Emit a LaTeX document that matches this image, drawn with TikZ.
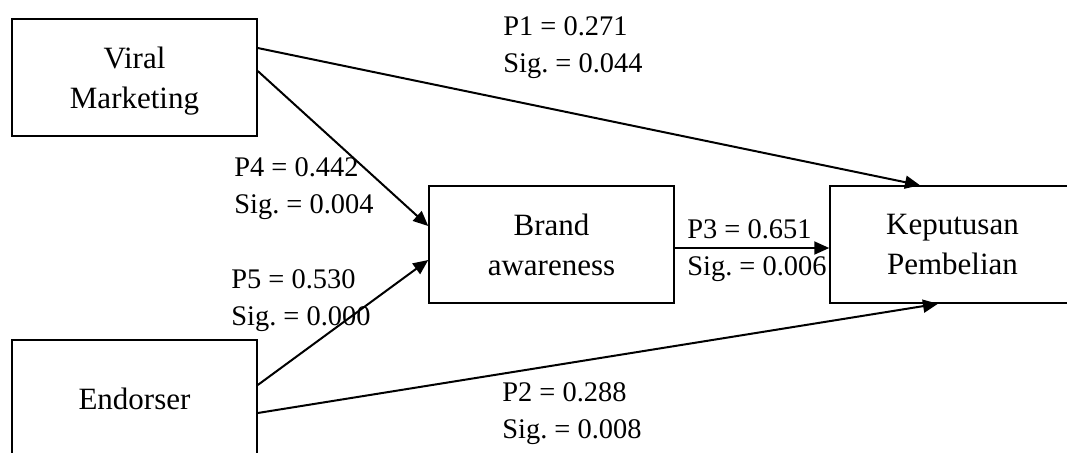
\documentclass[tikz,border=0pt]{standalone}
\usepackage{fontspec}
\setmainfont{Liberation Serif}
\usepackage{tikz}
\usetikzlibrary{arrows.meta, positioning}
\usetikzlibrary{calc}

\tikzset{
  varbox/.style={draw, line width=0.75pt, minimum width=122.5pt, minimum height=58.5pt,
    align=center, inner sep=0pt, font=\fontsize{15.5}{20}\selectfont},
  coef/.style={anchor=base west, inner sep=0pt, align=left,
    font=\fontsize{14.2}{18.5}\selectfont\frenchspacing},
  link/.style={line width=1pt, -{Triangle[length=7.5pt,width=6.5pt]}}
}

\begin{document}
\begin{tikzpicture}[x=0.5pt,y=-0.5pt]
\clip (0,0) rectangle (1067,452);
\fill[white] (0,0) rectangle (1067,452);
\node[varbox] (viral) at (134.5,77.5) {Viral\\\smash{Marketing}};
\node[varbox] (endorser) at (134.5,398.5) {Endorser};
\node[varbox] (brand) at (551.5,244.5) {Brand\\awareness};
\node[varbox] (kep) at (952.5,244.5) {Keputusan\\Pembelian};
\draw[link] ([yshift=14.75pt]viral.east) -- ([xshift=-16.25pt]kep.north);
\draw[link] ([yshift=3.25pt]viral.east) -- ([yshift=9.25pt]brand.west);
\draw[link] ([yshift=6.75pt]endorser.east) -- ([yshift=-7.75pt]brand.west);
\draw[link] ([yshift=-7.25pt]endorser.east) -- ([xshift=-7.25pt]kep.south);
\draw[link] ([yshift=-1.75pt]brand.east) -- ([yshift=-1.75pt]kep.west);
\node[coef] (p1) at (503,72) {P1 = 0.271\\Sig. = 0.044};
\node[coef] (p4) at (234,213) {P4 = 0.442\\Sig. = 0.004};
\node[coef] (p5) at (231,325) {P5 = 0.530\\Sig. = 0.000};
\node[coef] (p3) at (687,275) {P3 = 0.651\\Sig. = 0.006};
\node[coef] (p2) at (502,438) {P2 = 0.288\\Sig. = 0.008};
\end{tikzpicture}
\end{document}
